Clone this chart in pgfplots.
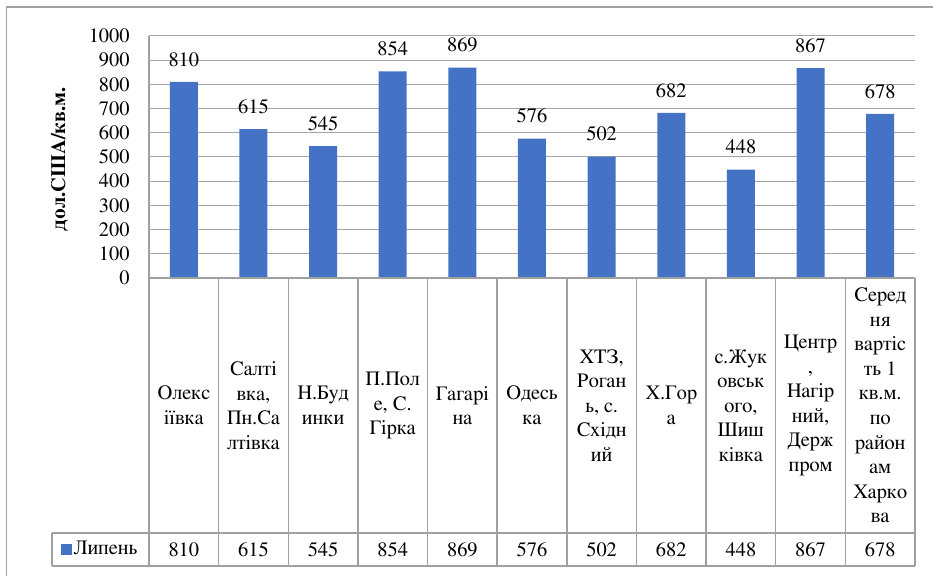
\documentclass[border=0pt]{standalone}
\usepackage{fontspec}
\setmainfont{FreeSerif}
\usepackage{pgfplots}
\pgfplotsset{compat=1.18}
\usepackage{pgfplotstable}

\definecolor{barblue}{HTML}{4472C4}
\definecolor{gridgray}{HTML}{A6A6A6}
\definecolor{rulegray}{HTML}{A0A0A0}
\newcommand{\chartfont}{\fontsize{10.2}{12.3}\selectfont}

% average asking price per district, USD per sq. m (July)
\pgfplotstableread{
idx val
0 810
1 615
2 545
3 854
4 869
5 576
6 502
7 682
8 448
9 867
10 678
}\prices

\begin{document}
\begin{tikzpicture}
\useasboundingbox (-74.5pt,-149pt) rectangle (392pt,139pt);
\begin{axis}[
  at={(0,0)}, anchor=south west,
  scale only axis, width=383pt, height=121pt,
  clip=false,
  xmin=-0.5, xmax=10.5, ymin=0, ymax=1000,
  ytick={0,100,...,1000},
  xtick={0,...,10},
  xticklabels={
    {Олекс\\іївка},
    {Салті\\вка,\\Пн.Са\\лтівка},
    {Н.Буд\\инки},
    {П.Пол\\е, С.\\Гірка},
    {Гагарі\\на},
    {Одесь\\ка},
    {ХТЗ,\\Роган\\ь, с.\\Східн\\ий},
    {Х.Гор\\а},
    {с.Жук\\овськ\\ого,\\Шиш\\ківка},
    {Центр\\,\\Нагір\\ний,\\Держ\\пром},
    {Серед\\ня\\вартіс\\ть 1\\кв.м.\\по\\район\\ам\\Харко\\ва}
  },
  xticklabel style={font=\chartfont, align=center, anchor=center, inner sep=0pt, yshift=-63.75pt},
  yticklabel style={font=\chartfont, anchor=east, inner sep=0pt, xshift=-9.5pt},
  /pgf/number format/assume math mode=true,
  /pgf/number format/1000 sep={},
  axis line style={draw=none},
  major tick length=0pt,
  tick style={draw=none},
  ymajorgrids,
  grid style={gridgray, line width=0.5pt},
  ylabel={дол.США/кв.м.},
  ylabel style={font=\chartfont\bfseries, at={(axis description cs:-0.116,0.49)}, anchor=center},
  legend style={draw=none, fill=none, font=\chartfont, inner sep=0pt,
    at={(axis description cs:-0.064,-1.122)}, anchor=center,
    nodes={inner sep=1pt}},
  legend image code/.code={\fill[barblue] (0pt,-2.75pt) rectangle (5.5pt,2.75pt);},
  legend cell align=left,
]
% bars with their values on top
\addplot[ybar, bar width=14pt, fill=barblue, draw=none,
  nodes near coords,
  nodes near coords style={font=\chartfont, text=black, anchor=south, inner sep=0pt, yshift=7.5pt}]
  table[x=idx, y=val] \prices;
\addlegendentry{Липень}
% value row of the data table below the categories
\addplot[draw=none, mark=none, forget plot,
  nodes near coords, point meta=explicit,
  nodes near coords style={font=\chartfont, text=black, anchor=center, inner sep=0pt}]
  table[x=idx, y expr=-1121.9, meta=val] \prices;
\end{axis}
% data table grid
\begin{scope}[rulegray, line width=0.75pt]
  \draw (0,121pt) -- (0,-144pt);
  \foreach \k in {1,...,11} \draw (\k*34.818pt,0) -- (\k*34.818pt,-144pt);
  \draw (0,0) -- (383pt,0);
  \draw (-48.5pt,-127.5pt) -- (383pt,-127.5pt);
  \draw (-48.5pt,-144pt) -- (383pt,-144pt);
  \draw (-48.5pt,-127.5pt) -- (-48.5pt,-144pt);
\end{scope}
% chart area frame
\draw[rulegray, line width=0.75pt] (-71.25pt,-149pt) -- (-71.25pt,135.5pt) -- (392pt,135.5pt);
\end{tikzpicture}
\end{document}
